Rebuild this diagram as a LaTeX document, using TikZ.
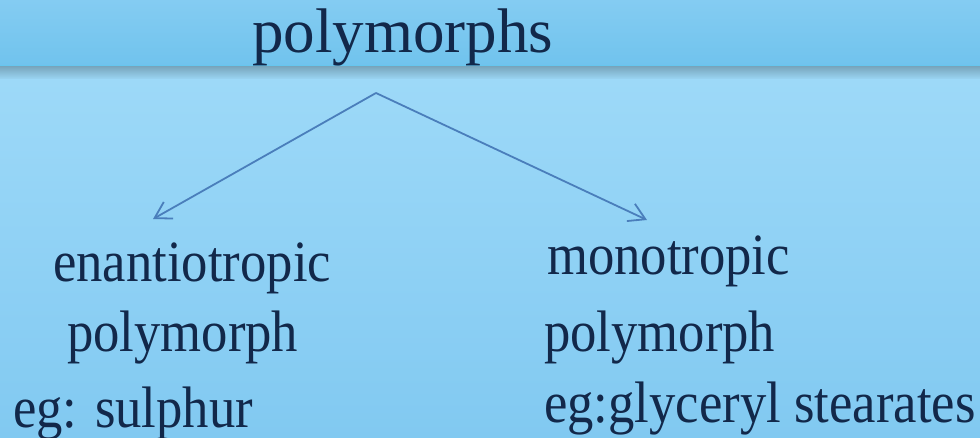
\documentclass[tikz,border=0pt]{standalone}
\usepackage{fontspec}
\newfontfamily\slideface{Liberation Serif}
\newfontfamily\leafface[FakeStretch=0.9]{Liberation Serif}
\usepackage{tikz}
\usetikzlibrary{arrows.meta}
\definecolor{SlideNavy}{HTML}{12284A}
\definecolor{SlideArrow}{HTML}{4A7EBB}
\definecolor{BandTop}{HTML}{84CCF2}
\definecolor{BandBottom}{HTML}{70C3ED}
\definecolor{BandEdge}{HTML}{66C6EE}
\definecolor{ShadowTop}{HTML}{7AA8BF}
\definecolor{PaneTop}{HTML}{9DD9F8}
\definecolor{PaneBottom}{HTML}{81C9F1}
\tikzstyle{headtext} = [inner sep=0pt, anchor=base west, text=SlideNavy, font=\slideface\fontsize{63}{70}\selectfont]
\tikzstyle{leaftext} = [inner sep=0pt, anchor=base west, text=SlideNavy, font=\leafface\fontsize{58.5}{66}\selectfont]
\tikzstyle{arrow} = [line width=1.8pt, draw=SlideArrow, -{Straight Barb[length=16pt,width=19pt]}]

\begin{document}
\begin{tikzpicture}[x=1pt, y=-1pt]
  % slide background
  \useasboundingbox (0,0) rectangle (980,438);
  \shade[top color=BandTop, bottom color=BandBottom] (0,0) rectangle (980,66);
  \fill[BandEdge] (0,65) rectangle (980,67);
  \shade[top color=ShadowTop, bottom color=PaneTop] (0,67) rectangle (980,80);
  \shade[top color=PaneTop, bottom color=PaneBottom] (0,80) rectangle (980,438);

  \node (polymorphs) [headtext] at (252,53) {polymorphs};

  \node (enantio) [leaftext] at (53,282) {enantiotropic};
  \node (enantiopoly) [leaftext] at (67,352) {polymorph};
  \node (enantioeg) [leaftext] at (13,427) {eg: sulphur};

  \node (mono) [leaftext] at (547,275) {monotropic};
  \node (monopoly) [leaftext] at (544,352) {polymorph};
  \node (monoeg) [leaftext] at (544,422) {eg:glyceryl stearates};

  \coordinate (split) at (376,93);
  \coordinate (enantiotip) at (153,219);
  \coordinate (monotip) at (647,220);

  \draw [arrow] (split) -- (enantiotip);
  \draw [arrow] (split) -- (monotip);

\end{tikzpicture}
\end{document}
